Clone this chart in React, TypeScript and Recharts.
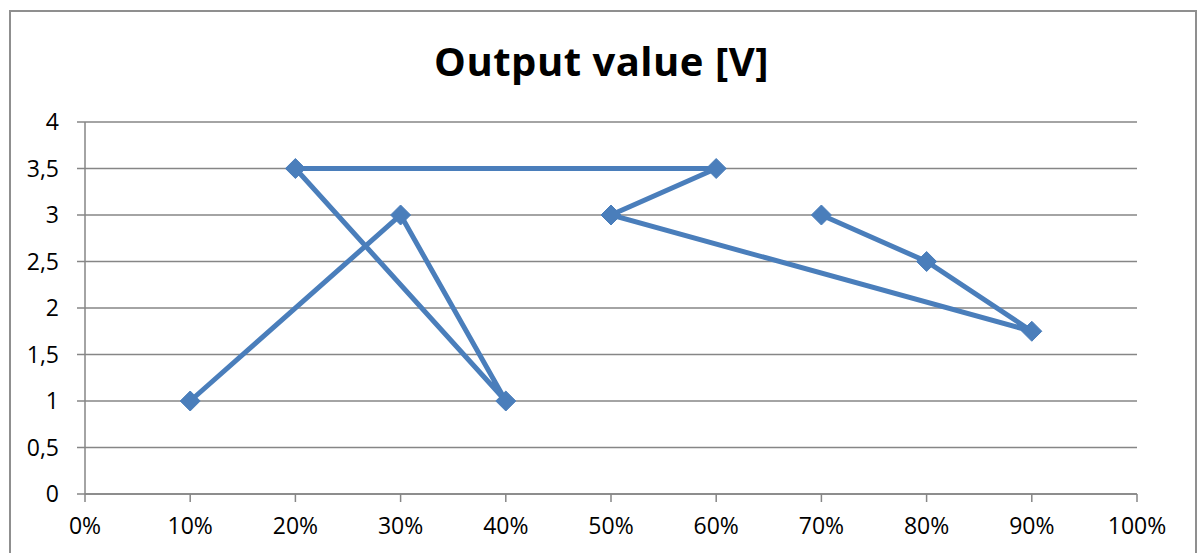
import { LineChart, Line, XAxis, YAxis, CartesianGrid } from "recharts";

// share of full scale (0..1) and output voltage, in the order they were plotted
const xShares = [0.1, 0.3, 0.4, 0.2, 0.6, 0.5, 0.9, 0.8, 0.7];
const outputVolts = [1, 3, 1, 3.5, 3.5, 3, 1.75, 2.5, 3];

const xTicks = [0, 0.1, 0.2, 0.3, 0.4, 0.5, 0.6, 0.7, 0.8, 0.9, 1];
const yTicks = [0, 0.5, 1, 1.5, 2, 2.5, 3, 3.5, 4];

const chartTitle = "Output value [V]";

const pts = xShares.map((x, i) => ({ x, y: outputVolts[i] }));

const font = "'Open Sans', 'Noto Sans', sans-serif";
const gray = "#868686";
const blue = "#4a7ebb";

const Diamond = (props: any) => {
  const { cx, cy } = props;
  if (cx == null || cy == null) return null;
  const r = 10;
  return (
    <polygon
      points={`${cx},${cy - r} ${cx + r},${cy} ${cx},${cy + r} ${cx - r},${cy}`}
      fill={blue}
      stroke={blue}
      strokeWidth={1}
    />
  );
};

export default function App() {
  return (
    <div
      style={{
        position: "absolute",
        left: 0,
        top: 0,
        width: 1203,
        height: 553,
        overflow: "hidden",
        background: "#fff",
        fontFamily: font,
      }}
    >
      <div
        style={{
          position: "absolute",
          left: 9,
          top: 10,
          width: 1184,
          height: 600,
          border: "2px solid #8f8f8f",
        }}
      />
      <div
        style={{
          position: "absolute",
          left: 0,
          width: 1203,
          top: 36,
          textAlign: "center",
          fontWeight: 700,
          fontSize: 40,
          lineHeight: "50px",
          letterSpacing: 0.5,
          color: "#000",
        }}
      >
        {chartTitle}
      </div>
      <div style={{ position: "absolute", left: 0, top: 0 }}>
        <LineChart
          width={1203}
          height={553}
          data={pts}
          margin={{ top: 122, right: 66, left: 0, bottom: 0 }}
        >
          <CartesianGrid vertical={false} stroke={gray} strokeWidth={1.5} />
          <XAxis
            dataKey="x"
            type="number"
            domain={[0, 1]}
            ticks={xTicks}
            interval={0}
            height={59}
            tickFormatter={(v: number) => `${Math.round(v * 100)}%`}
            axisLine={{ stroke: gray, strokeWidth: 1.5 }}
            tickLine={{ stroke: gray, strokeWidth: 1.5 }}
            tickSize={8}
            tickMargin={16}
            tick={{ fill: "#000", fontSize: 23, fontFamily: font }}
          />
          <YAxis
            type="number"
            domain={[0, 4]}
            ticks={yTicks}
            interval={0}
            width={85}
            tickFormatter={(v: number) => String(v).replace(".", ",")}
            axisLine={{ stroke: gray, strokeWidth: 1.5 }}
            tickLine={{ stroke: gray, strokeWidth: 1.5 }}
            tickSize={8}
            tickMargin={18}
            tick={{ fill: "#000", fontSize: 23, fontFamily: font }}
          />
          <Line
            dataKey="y"
            type="linear"
            stroke={blue}
            strokeWidth={5}
            dot={<Diamond />}
            activeDot={false}
            isAnimationActive={false}
          />
        </LineChart>
      </div>
    </div>
  );
}
